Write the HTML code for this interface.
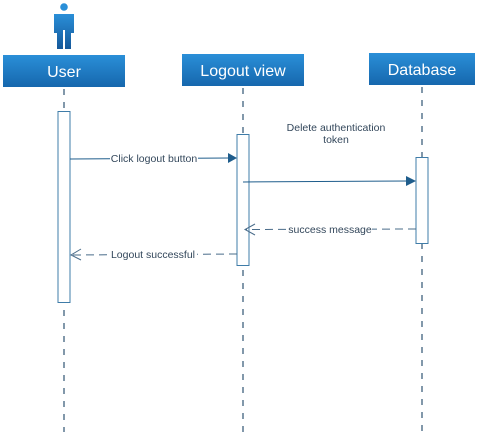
<!DOCTYPE html>
<html><head><meta charset="utf-8"><style>
html,body{margin:0;padding:0;background:#fff;width:478px;height:438px;overflow:hidden}
text{font-family:"Liberation Sans",sans-serif}
</style></head><body>
<svg width="478" height="438" viewBox="0 0 478 438" xmlns="http://www.w3.org/2000/svg">
<defs>
<linearGradient id="g" x1="0" y1="0" x2="0" y2="1">
<stop offset="0" stop-color="#2a8fd8"/><stop offset="1" stop-color="#1667ad"/>
</linearGradient>
<linearGradient id="ga" x1="0" y1="0" x2="0" y2="1">
<stop offset="0" stop-color="#2a8fd8"/><stop offset="1" stop-color="#15589a"/>
</linearGradient>
</defs>
<circle cx="64" cy="7" r="3.8" fill="#2a8fd8"/>
<path d="M54 14 H74 V33 H71 V49 H65 V30 H63 V49 H57 V33 H54 Z" fill="url(#ga)"/>
<rect x="3" y="55" width="122" height="32" fill="url(#g)"/>
<text x="64" y="77" font-size="16" fill="#fff" text-anchor="middle">User</text>
<rect x="182" y="54" width="122" height="32" fill="url(#g)"/>
<text x="243" y="76" font-size="16" fill="#fff" text-anchor="middle">Logout view</text>
<rect x="369" y="53" width="106" height="32" fill="url(#g)"/>
<text x="422" y="75" font-size="16" fill="#fff" text-anchor="middle">Database</text>
<g stroke="#2f5373" stroke-width="1.2" stroke-dasharray="6,7">
<line x1="64" y1="89" x2="64" y2="432"/>
<line x1="243" y1="88" x2="243" y2="432"/>
<line x1="422" y1="87" x2="422" y2="432"/>
</g>
<g fill="#fff" stroke="#3f7ca8" stroke-width="1">
<rect x="58" y="111.5" width="12" height="191"/>
<rect x="237" y="134.5" width="12" height="131"/>
<rect x="416" y="157.5" width="12" height="86"/>
</g>
<g stroke="#1f5d8c" stroke-width="1">
<line x1="70" y1="159" x2="230" y2="158"/>
<line x1="243" y1="182" x2="409" y2="181"/>
</g>
<polygon points="237,158 228,153 228,163" fill="#1f5d8c"/>
<polygon points="416,181 406,176 406,186" fill="#1f5d8c"/>
<rect x="110" y="151" width="88" height="14" fill="#fff"/>
<text x="154" y="162" font-size="10.5" fill="#33475b" text-anchor="middle">Click logout button</text>
<text x="336" y="131" font-size="10.5" fill="#33475b" text-anchor="middle">Delete authentication</text>
<text x="336" y="143" font-size="10.5" fill="#33475b" text-anchor="middle">token</text>
<g stroke="#4a6c8a" stroke-width="1" stroke-dasharray="8,5" fill="none">
<line x1="416" y1="229" x2="245" y2="229.5"/>
<line x1="237" y1="254" x2="71" y2="255"/>
</g>
<g stroke="#4a6c8a" stroke-width="1" fill="none">
<polyline points="255,224 245,229.5 255,235"/>
<polyline points="81,249 71,255 81,260"/>
</g>
<rect x="288" y="222" width="84" height="14" fill="#fff"/>
<text x="330" y="233" font-size="10.5" fill="#33475b" text-anchor="middle">success message</text>
<rect x="109" y="247" width="88" height="14" fill="#fff"/>
<text x="153" y="258" font-size="10.5" fill="#33475b" text-anchor="middle">Logout successful</text>
</svg>
</body></html>
